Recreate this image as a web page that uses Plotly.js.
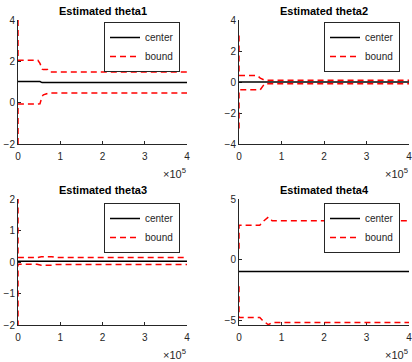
<!DOCTYPE html>
<html>
<head>
<meta charset="utf-8">
<script src="https://cdn.plot.ly/plotly-3.0.1.min.js"></script>
<style>html,body{margin:0;padding:0;background:#fff;}#chart{width:412px;height:362px;}</style>
</head>
<body>
<div id="chart"></div>
<script>
// ---- data ----
const titles = ["Estimated theta1", "Estimated theta2", "Estimated theta3", "Estimated theta4"];
const seriesNames = ["center", "bound"];
const xTickVals = [0, 100000, 200000, 300000, 400000];
const xTickText = ["0", "1", "2", "3", "4"];

const x1 = [0, 0, 47000, 52000, 57000, 60000, 70000, 75000, 400000];
const center1 = [1.02, 1.02, 1.02, 1.02, 0.97, 0.97, 0.97, 0.97, 0.97];
const upper1 = [4, 2.05, 2.05, 1.9, 1.62, 1.6, 1.6, 1.48, 1.48];
const lower1 = [-2, -0.06, -0.06, -0.05, 0.3, 0.38, 0.45, 0.47, 0.47];

const x2 = [0, 0, 43000, 50000, 60000, 400000];
const center2 = [0, 0, 0, 0, 0, 0];
const upper2 = [3, 0.42, 0.42, 0.25, 0.12, 0.12];
const lower2 = [-3, -0.5, -0.5, -0.5, -0.12, -0.12];

const x3 = [0, 0, 45000, 55000, 80000, 90000, 400000];
const center3 = [0.02, 0.02, 0.02, 0.02, 0.02, 0.02, 0.02];
const upper3 = [3, 0.14, 0.14, 0.17, 0.17, 0.14, 0.14];
const lower3 = [-3, -0.07, -0.07, -0.1, -0.1, -0.08, -0.08];

const x4 = [0, 0, 49000, 55000, 69000, 78000, 400000];
const center4 = [-0.98, -0.98, -0.98, -0.93, -0.93, -0.98, -0.98];
const upper4 = [0.9, 2.83, 2.83, 3.1, 3.5, 3.2, 3.2];
const lower4 = [-2.2, -4.78, -4.78, -5.0, -5.38, -5.2, -5.2];

const yRanges = [[-2, 4], [-4, 4], [-2, 2], [-5.4, 5]];
const yTicks = [[-2, 0, 2, 4], [-4, -2, 0, 2, 4], [-2, -1, 0, 1, 2], [-5, 0, 5]];

// ---- layout geometry ----
const W = 412, H = 362;
const xDomains = [[18 / W, 187 / W], [239 / W, 409 / W]];
const yDomains = [[(H - 144) / H, (H - 20) / H], [(H - 325) / H, (H - 199) / H]];

const panels = [
  {x: x1, c: center1, u: upper1, l: lower1},
  {x: x2, c: center2, u: upper2, l: lower2},
  {x: x3, c: center3, u: upper3, l: lower3},
  {x: x4, c: center4, u: upper4, l: lower4}
];

const axisColor = '#262626';
const font = {family: 'Liberation Sans, Arial, sans-serif', size: 10, color: axisColor};
const traces = [];
const layout = {
  width: W, height: H,
  margin: {l: 0, r: 0, t: 0, b: 0},
  paper_bgcolor: '#fff', plot_bgcolor: '#fff',
  font: font,
  showlegend: true,
  annotations: []
};

panels.forEach((p, i) => {
  const n = i + 1;
  const xa = n === 1 ? 'x' : 'x' + n;
  const ya = n === 1 ? 'y' : 'y' + n;
  const lg = n === 1 ? 'legend' : 'legend' + n;
  const col = i % 2, row = Math.floor(i / 2);
  traces.push({x: p.x, y: p.c, xaxis: xa, yaxis: ya, type: 'scatter', mode: 'lines',
    name: seriesNames[0], legend: lg, line: {color: '#000', width: 1.5}});
  traces.push({x: p.x, y: p.u, xaxis: xa, yaxis: ya, type: 'scatter', mode: 'lines',
    name: seriesNames[1], legend: lg, legendgroup: 'b' + n, line: {color: '#ff0000', width: 1.5, dash: '6px,4px'}});
  traces.push({x: p.x, y: p.l, xaxis: xa, yaxis: ya, type: 'scatter', mode: 'lines',
    name: seriesNames[1], legend: lg, legendgroup: 'b' + n, showlegend: false, line: {color: '#ff0000', width: 1.5, dash: '6px,4px'}});

  const xKey = n === 1 ? 'xaxis' : 'xaxis' + n;
  const yKey = n === 1 ? 'yaxis' : 'yaxis' + n;
  layout[xKey] = {
    domain: xDomains[col], anchor: ya, range: [0, 400000],
    tickvals: xTickVals, ticktext: xTickText,
    ticks: 'inside', ticklen: 3, tickcolor: axisColor, tickwidth: 1,
    showline: true, linecolor: axisColor, linewidth: 1,
    showgrid: false, zeroline: false, tickfont: font, fixedrange: true,
    ticklabeloverflow: 'allow', ticklabelstandoff: 3, layer: 'below traces'
  };
  layout[yKey] = {
    domain: yDomains[row], anchor: xa, range: yRanges[i],
    tickvals: yTicks[i],
    ticks: 'inside', ticklen: 3, tickcolor: axisColor, tickwidth: 1,
    showline: true, linecolor: axisColor, linewidth: 1,
    showgrid: false, zeroline: false, tickfont: font, fixedrange: true,
    ticklabeloverflow: 'allow', layer: 'below traces'
  };
  layout[lg] = {
    x: col === 0 ? 180 / W : 400 / W,
    y: row === 0 ? (H - 22) / H : (H - 203) / H,
    xanchor: 'right', yanchor: 'top',
    bgcolor: '#fff', bordercolor: axisColor, borderwidth: 1,
    font: {family: font.family, size: 10, color: axisColor},
    tracegroupgap: 0
  };
  const xd = xDomains[col], yd = yDomains[row];
  layout.annotations.push({
    text: '<b>' + titles[i] + '</b>', xref: 'paper', yref: 'paper',
    x: (xd[0] + xd[1]) / 2, y: yd[1] + 9 / H, xanchor: 'center', yanchor: 'middle',
    showarrow: false, font: {family: font.family, size: 11, color: '#000'}
  });
  layout.annotations.push({
    text: '×10<sup>5</sup>', xref: 'paper', yref: 'paper',
    x: xd[1] + 1 / W, y: yd[0] - 29 / H, xanchor: 'right', yanchor: 'middle',
    showarrow: false, font: {family: font.family, size: 11, color: axisColor}
  });
});

Plotly.newPlot('chart', traces, layout, {staticPlot: true, displayModeBar: false});
</script>
</body>
</html>
